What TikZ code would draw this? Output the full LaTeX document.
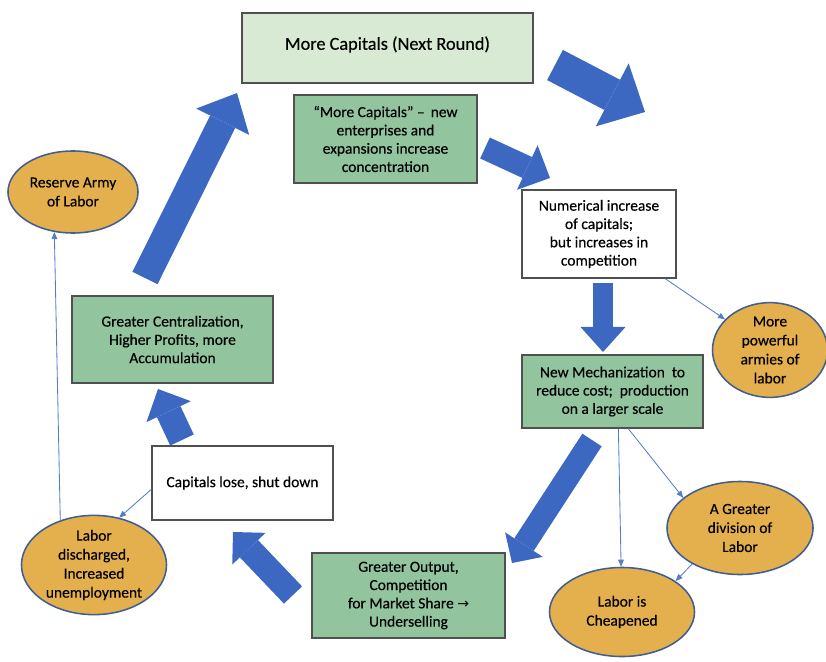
\documentclass[tikz,border=0pt]{standalone}
\usepackage{fontspec}
\setmainfont{Carlito}[FakeBold=0.35]
\newfontfamily\symfont{DejaVu Sans}
\usetikzlibrary{shapes.geometric,arrows.meta}

\definecolor{lightgreen}{RGB}{216,234,211}
\definecolor{midgreen}{RGB}{146,196,158}
\definecolor{gold}{RGB}{228,176,78}
\definecolor{ringblue}{RGB}{64,94,145}
\definecolor{arrowblue}{RGB}{61,104,194}
\definecolor{thinblue}{RGB}{84,124,200}
\definecolor{edgegray}{RGB}{80,80,80}

\begin{document}
\begin{tikzpicture}[x=0.025cm, y=-0.025cm,
    box/.style={rectangle, draw=edgegray, line width=0.9pt, align=center, inner sep=2pt, font=\fontsize{11}{13}\selectfont},
    greenbox/.style={box, fill=midgreen},
    plainbox/.style={box, fill=white},
    labor/.style={ellipse, draw=ringblue, line width=1.1pt, fill=gold, align=center, inner sep=0pt, font=\fontsize{11}{13.5}\selectfont},
    thinarrow/.style={-{Triangle[width=4pt,length=5pt]}, draw=thinblue, line width=0.6pt},
    bigarrow/.style n args={3}{draw=arrowblue, line width=#1, -{Triangle[width=#2,length=#3,line width=0pt]}}
]
\useasboundingbox (0,0) rectangle (826,662);

% Boxes
\node[box, fill=lightgreen, minimum width=7.275cm, minimum height=1.75cm, text depth=7pt, font=\fontsize{13}{15}\selectfont] (next) at (387.5,48) {More Capitals (Next Round)};
\node[greenbox, minimum width=4.575cm, minimum height=2.2cm] (more) at (385.5,139) {``More Capitals'' --\, new\\enterprises and\\expansions increase\\concentration};
\node[plainbox, minimum width=3.85cm, minimum height=2.2cm] (numer) at (599,234) {Numerical increase\\of capitals;\\but increases in\\competition};
\node[greenbox, minimum width=4.525cm, minimum height=1.825cm] (mech) at (612.5,391.5) {New Mechanization\ \ to\\reduce cost;\ \ production\\on a larger scale};
\node[greenbox, minimum width=4.825cm, minimum height=2.125cm] (output) at (408.5,595.5) {Greater Output,\\Competition\\for Market Share {\symfont\fontsize{10}{13}\selectfont→}\\Underselling};
\node[plainbox, minimum width=4.525cm, minimum height=1.85cm] (lose) at (242.5,483) {Capitals lose, shut down};
\node[greenbox, minimum width=5.025cm, minimum height=2.175cm] (central) at (172.5,339.5) {Greater Centralization,\\Higher Profits, more\\Accumulation};

% Labor
\node[labor, minimum width=3.25cm, minimum height=2.05cm] (reserve) at (73,192) {Reserve Army\\of Labor};
\node[labor, minimum width=2.875cm, minimum height=2.35cm] (powerful) at (770,350) {More\\powerful\\armies of\\labor};
\node[labor, minimum width=3.65cm, minimum height=2.325cm] (division) at (740,528) {A Greater\\division of\\Labor};
\node[labor, minimum width=3.625cm, minimum height=2.225cm] (cheap) at (622,612) {Labor is\\Cheapened};
\node[labor, minimum width=3.625cm, minimum height=2.35cm] (discharged) at (94,565) {Labor\\discharged,\\Increased\\unemployment};

% Block arrows
\coordinate (a1) at (555,65);  \coordinate (a1h) at (645,112);
\coordinate (a2) at (485,148); \coordinate (a2h) at (550,178);
\coordinate (a3) at (603,283); \coordinate (a3h) at (603,352);
\coordinate (a4) at (592,440); \coordinate (a4h) at (512,563);
\coordinate (a5) at (293,595); \coordinate (a5h) at (233,532);
\coordinate (a6) at (182,440); \coordinate (a6h) at (158,389);
\coordinate (a7) at (145,278); \coordinate (a7h) at (237,93);
\draw[bigarrow={24.2pt}{50.5pt}{26.3pt}] (a1) -- (a1h);
\draw[bigarrow={16.4pt}{34.9pt}{17.8pt}] (a2) -- (a2h);
\draw[bigarrow={14.2pt}{32pt}{17.8pt}] (a3) -- (a3h);
\draw[bigarrow={16.4pt}{32pt}{15.6pt}] (a4) -- (a4h);
\draw[bigarrow={17.8pt}{32.7pt}{16.4pt}] (a5) -- (a5h);
\draw[bigarrow={18.5pt}{34.9pt}{17.8pt}] (a6) -- (a6h);
\draw[bigarrow={19.9pt}{42pt}{22.8pt}] (a7) -- (a7h);

% Thin arrows
\draw[thinarrow] (numer.-34) -- (powerful);
\draw[thinarrow] (mech.-81) -- (cheap);
\draw[thinarrow] (mech.-67) -- (division.152);
\draw[thinarrow] (division.217) -- (cheap.30);
\draw[thinarrow] (lose.184) -- (discharged.62);
\draw[thinarrow] (discharged.127) -- (reserve.245);

\end{tikzpicture}
\end{document}
